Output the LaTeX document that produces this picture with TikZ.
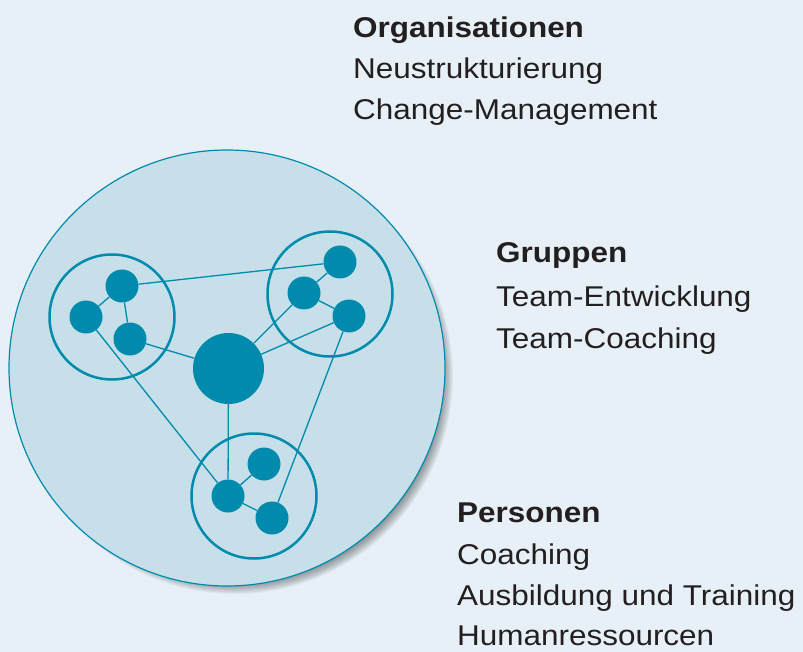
\documentclass[tikz,border=0pt]{standalone}
\usepackage{fontspec}
\setmainfont{Liberation Sans}[FakeStretch=1.1]
\definecolor{netblue}{HTML}{008BAE}
\definecolor{pagebg}{HTML}{E7F0F6}
\definecolor{orgfill}{HTML}{C7DFE8}
\definecolor{textgray}{HTML}{231F20}

\begin{document}
\begin{tikzpicture}[x=1pt, y=-1pt,
    person/.style={circle, fill=netblue, inner sep=0pt, minimum size=33pt},
    leader/.style={circle, fill=netblue, inner sep=0pt, minimum size=71pt},
    group/.style={circle, draw=netblue, line width=2.5pt, inner sep=0pt, minimum size=125pt},
    link/.style={draw=netblue, line width=1.3pt},
    head/.style={anchor=base west, inner sep=0pt, text=textgray, font=\bfseries\fontsize{28.6}{34}\selectfont},
    item/.style={anchor=base west, inner sep=0pt, text=textgray, font=\fontsize{28.6}{34}\selectfont}]

    % page background
    \fill[pagebg] (0,0) rectangle (803,652);
    \useasboundingbox (0,0) rectangle (803,652);

    % organisation circle with soft shadow
    \foreach \i in {1,...,12}
        \fill[black, opacity=0.04] (235,376) circle[radius={(219-\i)*1pt}];
    \node[circle, fill=orgfill, draw=netblue, line width=1.2pt, inner sep=0pt,
        minimum size=436pt] (org) at (227,368) {};

    % groups
    \node[group] (gl) at (112,317) {};
    \node[group] (gr) at (330,294) {};
    \node[group] (gb) at (254,496) {};

    % persons
    \node[leader] (boss) at (228.5,368.5) {};
    \node[person] (l1) at (122,286) {};
    \node[person] (l2) at (86,317) {};
    \node[person] (l3) at (130,339) {};
    \node[person] (r1) at (340,262) {};
    \node[person] (r2) at (304,293) {};
    \node[person] (r3) at (349,316) {};
    \node[person] (b1) at (264,464) {};
    \node[person] (b2) at (228,496) {};
    \node[person] (b3) at (272,518) {};

    % links
    \draw[link] (l1) -- (l2);
    \draw[link] (l1) -- (l3);
    \draw[link] (l3) -- (boss);
    \draw[link] (l1) -- (r1);
    \draw[link] (l2) -- (b2);
    \draw[link] (r1) -- (r2);
    \draw[link] (r2) -- (r3);
    \draw[link] (r2) -- (boss);
    \draw[link] (r3) -- (boss);
    \draw[link] (r3) -- (b3);
    \draw[link] (boss) -- (b2);
    \draw[link] (b2) -- (b1);
    \draw[link] (b2) -- (b3);

    % labels
    \node[head] (orghead) at (353,38) {Organisationen};
    \node[item] (orgitem1) at (353,79) {Neustrukturierung};
    \node[item] (orgitem2) at (353,120) {Change-Management};

    \node[head] (grphead) at (496,263) {Gruppen};
    \node[item] (grpitem1) at (496,306) {Team-Entwicklung};
    \node[item] (grpitem2) at (496,348) {Team-Coaching};

    \node[head] (perhead) at (457,522) {Personen};
    \node[item] (peritem1) at (457,564) {Coaching};
    \node[item] (peritem2) at (457,605) {Ausbildung und Training};
    \node[item] (peritem3) at (457,645) {Humanressourcen};
\end{tikzpicture}
\end{document}
